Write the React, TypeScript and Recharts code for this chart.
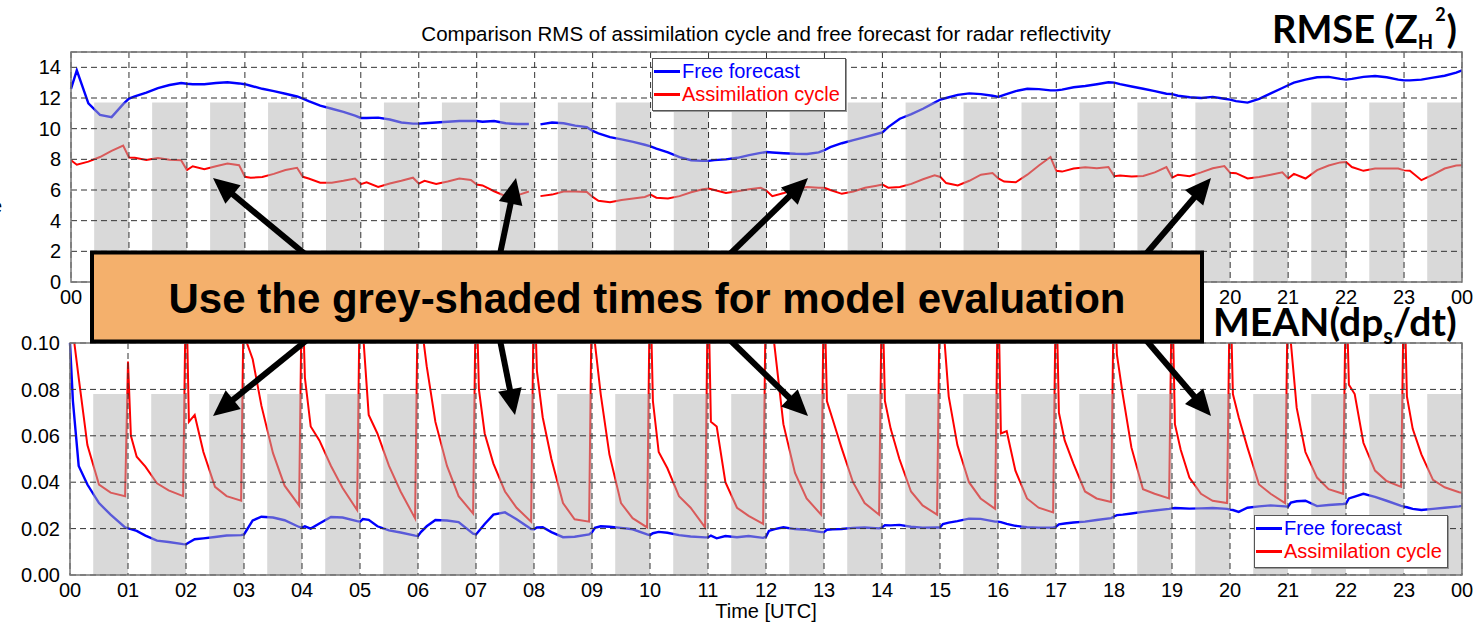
import React from 'react';
import { LineChart, Line, XAxis, YAxis, CartesianGrid, ReferenceArea, Legend } from 'recharts';

// hours of the day (x axis ticks) and their labels
const hourTicks = [0, 1, 2, 3, 4, 5, 6, 7, 8, 9, 10, 11, 12, 13, 14, 15, 16, 17, 18, 19, 20, 21, 22, 23, 24];
const hourLabels = ['00', '01', '02', '03', '04', '05', '06', '07', '08', '09', '10', '11', '12', '13', '14', '15', '16', '17', '18', '19', '20', '21', '22', '23', '00'];

// grey-shaded evaluation windows
const shadeStart = [0.4, 1.4, 2.4, 3.4, 4.4, 5.4, 6.4, 7.4, 8.4, 9.4, 10.4, 11.4, 12.4, 13.4, 14.4, 15.4, 16.4, 17.4, 18.4, 19.4, 20.4, 21.4, 22.4, 23.4];
const shadeEnd = [1, 2, 3, 4, 5, 6, 7, 8, 9, 10, 11, 12, 13, 14, 15, 16, 17, 18, 19, 20, 21, 22, 23, 24];
const shadeTopRms = 11.7;
const shadeTopMean = 0.078;

// top panel: RMS, sampled at these offsets inside each hour
const rmsOffsets = [0, 0.1, 0.3, 0.5, 0.7, 0.9];
const rmsFree: (number | null)[][] = [
  [12.6, 13.8, 11.65, 10.9, 10.75, 11.6],
  [11.96, 12.1, 12.35, 12.65, 12.85, 12.98],
  [12.93, 12.9, 12.9, 12.98, 13.03, 12.95],
  [12.9, 12.8, 12.6, 12.45, 12.28, 12.1],
  [11.96, 11.8, 11.5, 11.3, 11.1, 10.85],
  [10.7, 10.7, 10.72, 10.6, 10.4, 10.33],
  [10.33, 10.35, 10.4, 10.45, 10.5, 10.5],
  [10.5, 10.45, 10.5, 10.35, 10.3, 10.3],
  [null, 10.28, 10.4, 10.35, 10.2, 10.1],
  [9.85, 9.7, 9.45, 9.3, 9.14, 8.95],
  [8.85, 8.7, 8.45, 8.15, 7.94, 7.9],
  [7.9, 7.95, 8.0, 8.1, 8.27, 8.42],
  [8.48, 8.45, 8.4, 8.36, 8.35, 8.45],
  [8.6, 8.8, 9.05, 9.25, 9.45, 9.65],
  [9.75, 10.1, 10.65, 10.95, 11.3, 11.7],
  [11.9, 12.0, 12.2, 12.3, 12.25, 12.15],
  [12.07, 12.2, 12.45, 12.6, 12.58, 12.5],
  [12.5, 12.55, 12.7, 12.78, 12.9, 13.03],
  [13.0, 12.9, 12.75, 12.6, 12.45, 12.28],
  [12.25, 12.15, 12.05, 12.0, 12.07, 11.95],
  [11.89, 11.8, 11.7, 11.95, 12.3, 12.65],
  [12.83, 13.0, 13.2, 13.35, 13.38, 13.25],
  [13.2, 13.25, 13.38, 13.43, 13.35, 13.2],
  [13.15, 13.15, 13.2, 13.33, 13.45, 13.65],
];
const rmsFreeEnd = 13.8;
const rmsAssim: (number | null)[][] = [
  [7.94, 7.65, 7.85, 8.15, 8.55, 8.9],
  [8.12, 8.1, 7.95, 8.08, 7.98, 7.94],
  [7.3, 7.55, 7.35, 7.55, 7.72, 7.62],
  [6.86, 6.8, 6.85, 7.05, 7.3, 7.45],
  [6.86, 6.75, 6.47, 6.47, 6.6, 6.75],
  [6.38, 6.5, 6.2, 6.42, 6.6, 6.8],
  [6.42, 6.6, 6.4, 6.55, 6.75, 6.65],
  [6.36, 6.3, 5.92, 5.6, 5.65, 5.9],
  [null, 5.6, 5.7, 5.9, 5.9, 5.87],
  [5.55, 5.3, 5.2, 5.35, 5.45, 5.55],
  [5.7, 5.5, 5.45, 5.6, 5.85, 6.05],
  [6.1, 6.0, 5.8, 5.92, 6.05, 6.15],
  [5.95, 5.6, 5.8, 6.05, 6.2, 6.15],
  [6.14, 6.0, 5.75, 5.9, 6.15, 6.28],
  [6.35, 6.15, 6.2, 6.4, 6.7, 6.96],
  [6.85, 6.45, 6.3, 6.6, 7.0, 7.1],
  [6.75, 6.55, 6.5, 7.0, 7.6, 8.15],
  [7.25, 7.2, 7.4, 7.48, 7.42, 7.5],
  [6.9, 6.95, 6.88, 6.92, 7.15, 7.5],
  [6.8, 7.0, 6.9, 7.15, 7.42, 7.56],
  [7.12, 7.1, 6.75, 6.85, 7.0, 7.15],
  [6.75, 7.05, 6.75, 7.3, 7.6, 7.8],
  [7.82, 7.5, 7.25, 7.4, 7.4, 7.4],
  [7.28, 7.25, 6.64, 7.0, 7.4, 7.6],
];
const rmsAssimEnd = 7.62;

// bottom panel: MEAN(dps/dt)
const meanOffsets = [0, 0.05, 0.15, 0.3, 0.5, 0.7, 0.95];
const meanFree: (number | null)[][] = [
  [0.1, 0.075, 0.047, 0.039, 0.031, 0.026, 0.0205],
  [0.0201, 0.0198, 0.019, 0.017, 0.0148, 0.0142, 0.0133],
  [0.0132, 0.014, 0.0154, 0.0158, 0.0164, 0.017, 0.0172],
  [0.0175, 0.0195, 0.0235, 0.0251, 0.0248, 0.0236, 0.0207],
  [0.0204, 0.021, 0.02, 0.0222, 0.025, 0.0248, 0.0232],
  [0.023, 0.0241, 0.0238, 0.021, 0.0192, 0.0183, 0.017],
  [0.0168, 0.0185, 0.021, 0.0237, 0.0235, 0.0228, 0.0178],
  [0.0175, 0.019, 0.022, 0.026, 0.027, 0.024, 0.0198],
  [0.0197, 0.0205, 0.0206, 0.0185, 0.0163, 0.0165, 0.0175],
  [0.0185, 0.0203, 0.021, 0.0208, 0.0203, 0.0197, 0.0175],
  [0.0172, 0.018, 0.0186, 0.0182, 0.0172, 0.0166, 0.0162],
  [0.0162, 0.017, 0.0158, 0.0168, 0.0163, 0.0168, 0.016],
  [0.0165, 0.019, 0.0198, 0.0206, 0.0198, 0.0195, 0.0185],
  [0.0185, 0.0195, 0.0197, 0.0198, 0.0203, 0.0205, 0.0201],
  [0.0205, 0.0215, 0.0214, 0.0216, 0.0208, 0.0204, 0.0205],
  [0.0205, 0.022, 0.0226, 0.0232, 0.0243, 0.0242, 0.023],
  [0.023, 0.0228, 0.022, 0.0212, 0.0206, 0.0204, 0.0204],
  [0.0208, 0.0218, 0.0222, 0.0226, 0.023, 0.0237, 0.0245],
  [0.0252, 0.0258, 0.026, 0.0265, 0.0272, 0.0278, 0.0285],
  [0.0287, 0.0289, 0.0288, 0.0286, 0.0287, 0.0289, 0.0285],
  [0.0282, 0.028, 0.0272, 0.029, 0.0296, 0.03, 0.0296],
  [0.0294, 0.0312, 0.0318, 0.032, 0.0297, 0.0302, 0.0306],
  [0.0308, 0.033, 0.0338, 0.035, 0.0337, 0.032, 0.0298],
  [0.0295, 0.0292, 0.0285, 0.028, 0.0285, 0.029, 0.0296],
];
const meanFreeEnd = 0.0298;
const meanAssim: (number | null)[][] = [
  [0.12, 0.105, 0.085, 0.056, 0.039, 0.0355, 0.034],
  [0.092, 0.06, 0.051, 0.0467, 0.0395, 0.0365, 0.034],
  [0.13, 0.066, 0.069, 0.053, 0.038, 0.034, 0.032],
  [0.13, 0.1, 0.093, 0.073, 0.0525, 0.0385, 0.03],
  [0.13, 0.085, 0.064, 0.058, 0.047, 0.0375, 0.028],
  [0.13, 0.105, 0.069, 0.061, 0.047, 0.036, 0.0244],
  [0.13, 0.11, 0.09, 0.066, 0.047, 0.034, 0.0265],
  [0.13, 0.08, 0.061, 0.048, 0.036, 0.029, 0.023],
  [0.13, 0.088, 0.068, 0.05, 0.031, 0.024, 0.023],
  [0.13, 0.1, 0.078, 0.052, 0.031, 0.0245, 0.0205],
  [0.13, 0.075, 0.053, 0.046, 0.034, 0.029, 0.0205],
  [0.13, 0.066, 0.064, 0.04, 0.029, 0.0255, 0.022],
  [0.13, 0.12, 0.098, 0.065, 0.044, 0.033, 0.026],
  [0.13, 0.075, 0.067, 0.055, 0.04, 0.031, 0.026],
  [0.13, 0.075, 0.063, 0.05, 0.036, 0.03, 0.026],
  [0.13, 0.11, 0.077, 0.056, 0.04, 0.033, 0.0285],
  [0.13, 0.061, 0.062, 0.045, 0.033, 0.029, 0.027],
  [0.13, 0.07, 0.058, 0.048, 0.036, 0.033, 0.0315],
  [0.13, 0.095, 0.078, 0.055, 0.037, 0.035, 0.033],
  [0.13, 0.065, 0.054, 0.042, 0.035, 0.032, 0.031],
  [0.13, 0.078, 0.068, 0.055, 0.039, 0.035, 0.031],
  [0.13, 0.1, 0.072, 0.053, 0.042, 0.037, 0.035],
  [0.13, 0.082, 0.078, 0.057, 0.045, 0.0405, 0.038],
  [0.13, 0.077, 0.063, 0.052, 0.041, 0.0378, 0.0357],
];
const meanAssimEnd = 0.0355;

const rmsTicks = [0, 2, 4, 6, 8, 10, 12, 14];
const meanTicks = [0, 0.02, 0.04, 0.06, 0.08, 0.1];

const seriesNames = { free: 'Free forecast', assim: 'Assimilation cycle' };
const FREE_COLOR = '#0000ff';
const ASSIM_COLOR = '#ff0000';
const SANS = '"Liberation Sans", Arial, Helvetica, sans-serif';

// builds rows {t, free, assim} from per-hour sample lists
const buildRows = (offsets: number[], free: (number | null)[][], assim: (number | null)[][], freeEnd: number, assimEnd: number) => {
  const rows: { t: number; free: number | null; assim: number | null }[] = [];
  shadeEnd.forEach((end, i) => {
    const h = end - 1;
    offsets.forEach((o, j) => {
      rows.push({ t: Math.round((h + o) * 1000) / 1000, free: free[i][j], assim: assim[i][j] });
    });
  });
  rows.push({ t: 24, free: freeEnd, assim: assimEnd });
  return rows;
};

const rmsRows = buildRows(rmsOffsets, rmsFree, rmsAssim, rmsFreeEnd, rmsAssimEnd);
const meanRows = buildRows(meanOffsets, meanFree, meanAssim, meanFreeEnd, meanAssimEnd);

const LegendBox = () => (
  <div
    style={{
      width: 194,
      height: 53,
      border: '1px solid #555',
      boxShadow: '1px 1px 0 #999',
      background: '#fff',
      boxSizing: 'border-box',
      padding: '1px 0 0 1px',
      fontFamily: SANS,
      fontSize: 20,
      lineHeight: '23px',
    }}
  >
    {[
      { name: seriesNames.free, color: FREE_COLOR },
      { name: seriesNames.assim, color: ASSIM_COLOR },
    ].map((it) => (
      <div key={it.name} style={{ display: 'flex', alignItems: 'center', height: 23, color: it.color, whiteSpace: 'nowrap' }}>
        <span style={{ display: 'inline-block', width: 26, height: 2.5, background: it.color, marginRight: 2 }} />
        <span>{it.name}</span>
      </div>
    ))}
  </div>
);

const Arrow = ({ x1, y1, x2, y2 }: { x1: number; y1: number; x2: number; y2: number }) => {
  const dx = x2 - x1;
  const dy = y2 - y1;
  const len = Math.sqrt(dx * dx + dy * dy);
  const ux = dx / len;
  const uy = dy / len;
  const hl = 26;
  const hw = 12;
  const bx = x2 - ux * hl;
  const by = y2 - uy * hl;
  const pts = `${x2},${y2} ${bx - uy * hw},${by + ux * hw} ${bx + uy * hw},${by - ux * hw}`;
  return (
    <g>
      <line x1={x1} y1={y1} x2={bx + ux * 2} y2={by + uy * 2} stroke="#000" strokeWidth={6} />
      <polygon points={pts} fill="#000" />
    </g>
  );
};

const arrows = [
  { x1: 305, y1: 254, x2: 213, y2: 178 },
  { x1: 500, y1: 254, x2: 516, y2: 178 },
  { x1: 730, y1: 254, x2: 808, y2: 178 },
  { x1: 1146, y1: 254, x2: 1211, y2: 178 },
  { x1: 307, y1: 340, x2: 213, y2: 416 },
  { x1: 500, y1: 340, x2: 515, y2: 415 },
  { x1: 730, y1: 340, x2: 808, y2: 416 },
  { x1: 1146, y1: 340, x2: 1211, y2: 416 },
];

const tickStyle = { fontSize: 20, fill: '#000', fontFamily: SANS };
const hourFmt = (v: number) => hourLabels[hourTicks.indexOf(v)] ?? '';

export default function App() {
  return (
    <div style={{ position: 'absolute', left: 0, top: 0, width: 1484, height: 623, background: '#fff', overflow: 'hidden' }}>
      <div style={{ position: 'absolute', left: 0, top: 0 }}>
        <LineChart width={1484} height={320} data={rmsRows} margin={{ top: 52, right: 22, bottom: 8, left: 11 }}>
          <CartesianGrid stroke="#333" strokeDasharray="6 4" strokeWidth={1} zIndex={460} />
          <XAxis
            dataKey="t"
            type="number"
            domain={[0, 24]}
            ticks={hourTicks}
            interval={0}
            tickFormatter={hourFmt}
            axisLine={false}
            tickLine={false}
            tick={tickStyle}
            height={30}
          />
          <YAxis type="number" domain={[0, 15]} ticks={rmsTicks} interval={0} axisLine={false} tickLine={false} tick={tickStyle} tickMargin={4} width={60} />
          <Line dataKey="free" name={seriesNames.free} stroke={FREE_COLOR} strokeWidth={2.4} dot={false} type="linear" isAnimationActive={false} />
          <Line dataKey="assim" name={seriesNames.assim} stroke={ASSIM_COLOR} strokeWidth={2} dot={false} type="linear" isAnimationActive={false} />
          {shadeStart.map((s, i) => (
            <ReferenceArea key={i} x1={s} x2={shadeEnd[i]} y1={0} y2={shadeTopRms} fill="#b4b4b4" fillOpacity={0.5} stroke="none" zIndex={450} />
          ))}
          <ReferenceArea x1={0} x2={24} y1={0} y2={15} fill="none" stroke="#777" strokeWidth={1.5} zIndex={470} />
          <Legend
            layout="vertical"
            align="center"
            verticalAlign="middle"
            content={() => <LegendBox />}
            wrapperStyle={{ left: 652, top: 58, width: 194 }}
          />
        </LineChart>
      </div>
      <div style={{ position: 'absolute', left: 0, top: 320 }}>
        <LineChart width={1484} height={303} data={meanRows} margin={{ top: 23, right: 22, bottom: 3, left: 10 }}>
          <CartesianGrid stroke="#333" strokeDasharray="6 4" strokeWidth={1} zIndex={460} />
          <XAxis
            dataKey="t"
            type="number"
            domain={[0, 24]}
            ticks={hourTicks}
            interval={0}
            tickFormatter={hourFmt}
            axisLine={false}
            tickLine={false}
            tick={tickStyle}
            height={45}
            label={{ value: 'Time [UTC]', position: 'insideBottom', offset: 2, fontSize: 20, fill: '#000', fontFamily: SANS }}
          />
          <YAxis
            type="number"
            domain={[0, 0.1]}
            allowDataOverflow
            ticks={meanTicks}
            interval={0}
            tickFormatter={(v: number) => v.toFixed(2)}
            axisLine={false}
            tickLine={false}
            tick={tickStyle}
            tickMargin={4}
            width={60}
          />
          <Line dataKey="free" name={seriesNames.free} stroke={FREE_COLOR} strokeWidth={2.4} dot={false} type="linear" isAnimationActive={false} />
          <Line dataKey="assim" name={seriesNames.assim} stroke={ASSIM_COLOR} strokeWidth={2} dot={false} type="linear" isAnimationActive={false} />
          {shadeStart.map((s, i) => (
            <ReferenceArea key={i} x1={s} x2={shadeEnd[i]} y1={0} y2={shadeTopMean} fill="#b4b4b4" fillOpacity={0.5} stroke="none" zIndex={450} />
          ))}
          <ReferenceArea x1={0} x2={24} y1={0} y2={0.1} fill="none" stroke="#777" strokeWidth={1.5} zIndex={470} />
          <Legend
            layout="vertical"
            align="center"
            verticalAlign="middle"
            content={() => <LegendBox />}
            wrapperStyle={{ left: 1254, top: 195, width: 194 }}
          />
        </LineChart>
      </div>
      <svg width={1484} height={623} style={{ position: 'absolute', left: 0, top: 0, pointerEvents: 'none' }}>
        <text x={766} y={41} textAnchor="middle" fontFamily={SANS} fontSize={20.5} fill="#000">
          Comparison RMS of assimilation cycle and free forecast for radar reflectivity
        </text>
        <text x={-9} y={213} fontFamily={SANS} fontSize={20} fill="#000">e</text>
        <text x={1272} y={43} fontFamily="Lato, sans-serif" fontWeight={700} fontSize={38} fill="#000">
          RMSE (Z
          <tspan fontSize={20} dy={6}>H</tspan>
          <tspan fontSize={18} dx={2} dy={-28}>2</tspan>
          <tspan fontSize={38} dx={1} dy={22}>)</tspan>
        </text>
        <text x={1213} y={336} fontFamily="Lato, sans-serif" fontWeight={700} fontSize={39} fill="#000">
          MEAN(dp
          <tspan fontSize={22} dy={8}>s</tspan>
          <tspan fontSize={39} dy={-8}>/dt)</tspan>
        </text>
        {arrows.map((a, i) => (
          <Arrow key={i} {...a} />
        ))}
        <rect x={92} y={252.5} width={1110} height={89} fill="#F4B06C" stroke="#000" strokeWidth={4} />
        <text x={647} y={313} textAnchor="middle" fontFamily={SANS} fontWeight={700} fontSize={42} fill="#000">
          Use the grey-shaded times for model evaluation
        </text>
      </svg>
    </div>
  );
}
